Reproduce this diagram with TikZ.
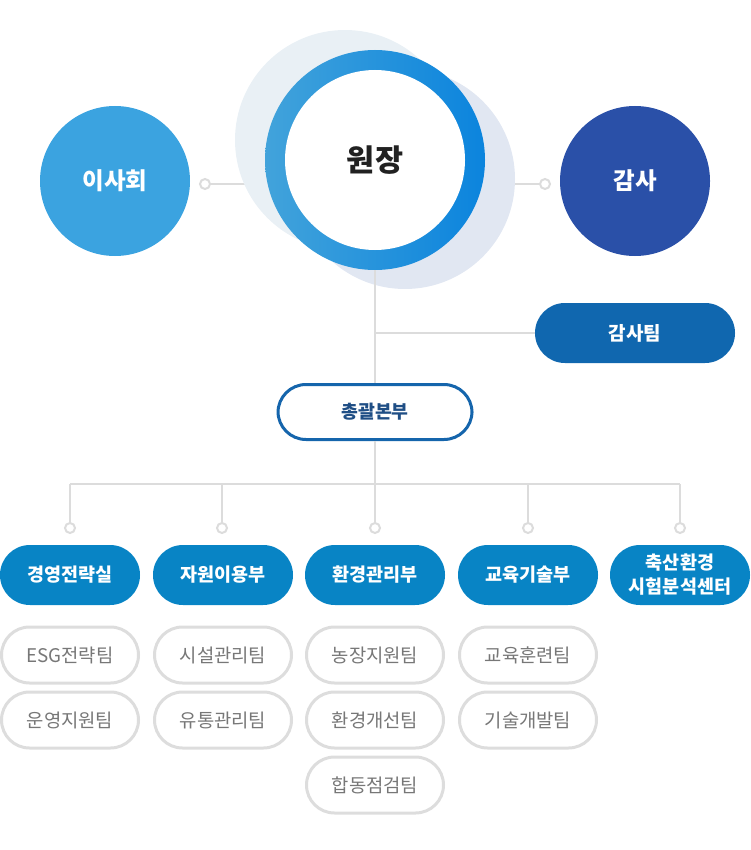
\documentclass[tikz,border=0pt]{standalone}
\usepackage{fontspec}
\setmainfont{Noto Sans CJK KR}
\pgfdeclarelayer{bg}
\pgfsetlayers{bg,main}
\definecolor{lineg}{HTML}{DCDCDC}
\definecolor{boardc}{HTML}{3BA3E0}
\definecolor{auditc}{HTML}{2A50A8}
\definecolor{lightA}{HTML}{E9F0F5}
\definecolor{lightB}{HTML}{E1E7F2}
\definecolor{ringL}{HTML}{42A3DB}
\definecolor{ringR}{HTML}{0B84DD}
\definecolor{deptc}{HTML}{0884C5}
\definecolor{ateamc}{HTML}{1067AF}
\definecolor{hqc}{HTML}{1565AC}
\definecolor{hqtext}{HTML}{1F4E85}
\definecolor{teamtext}{HTML}{777777}
\definecolor{teamline}{HTML}{DDDDDD}
\begin{document}
\begin{tikzpicture}[x=1pt,y=-1pt,
  conn/.style={draw=lineg, line width=2pt},
  enddot/.style={circle, draw=lineg, line width=2pt, fill=white, inner sep=0pt, minimum size=10pt},
  bigcirc/.style={circle, inner sep=0pt, minimum size=150pt, text=white, font=\fontsize{23.5}{28}\selectfont\bfseries},
  deptbox/.style={rectangle, rounded corners=29.9pt, fill=deptc, minimum width=140pt, minimum height=60pt, inner sep=0pt, text=white, align=center, font=\fontsize{18.5}{24}\selectfont\bfseries},
  teambox/.style={rectangle, rounded corners=28pt, fill=white, draw=teamline, line width=3pt, minimum width=137pt, minimum height=56pt, inner sep=0pt, text=teamtext, font=\fontsize{18.8}{22}\selectfont}
]
\useasboundingbox (0,0) rectangle (750,850);

% decorative background circles
\fill[lightA] (345,140) circle[radius=110pt];
\fill[lightB] (405,179) circle[radius=110pt];

% chief ring
\node (chiefring) [circle, inner sep=0pt, minimum size=220pt, left color=ringL, right color=ringR] at (375,160) {};
\node (chief) [circle, inner sep=0pt, minimum size=180pt, fill=white, text=black!87, font=\fontsize{30.5}{34}\selectfont\bfseries] at (375,160) {원장};

% board and auditor
\node (board) [bigcirc, fill=boardc] at (115,181) {이사회};
\node (auditor) [bigcirc, fill=auditc] at (635,181) {감사};
\node (dotL) [enddot] at (205,184) {};
\node (dotR) [enddot] at (545,184) {};

\begin{pgfonlayer}{bg}
  \draw[conn] (dotL.east) -- (chiefring.center |- dotL);
  \draw[conn] (dotR.west) -- (chiefring.center |- dotR);
\end{pgfonlayer}

% audit team and headquarters
\node (auditteam) [rectangle, rounded corners=29.9pt, fill=ateamc, minimum width=200pt, minimum height=60pt, inner sep=0pt, text=white, font=\fontsize{19}{22}\selectfont\bfseries] at (635,333) {감사팀};
\node (hq) [rectangle, rounded corners=28pt, fill=white, draw=hqc, line width=3pt, minimum width=194pt, minimum height=55pt, inner sep=0pt, text=hqtext, font=\fontsize{18.3}{22}\selectfont\bfseries] at (375,412) {총괄본부};

\coordinate (auditj) at (375,333);
\draw[conn] (chiefring.south) -- (hq.north);
\draw[conn] (auditj) -- (auditteam.west);

% bus
\coordinate (bus) at (375,484);
\coordinate (busL) at (70,484);
\coordinate (busR) at (680,484);
\draw[conn] (hq.south) -- (bus);
\draw[conn] (busL) -- (busR);

\node (d1) [enddot] at (70,528) {};
\node (d2) [enddot] at (222,528) {};
\node (d3) [enddot] at (375,528) {};
\node (d4) [enddot] at (528,528) {};
\node (d5) [enddot] at (680,528) {};
\foreach \d in {d1,d2,d3,d4,d5} {
  \draw[conn] (bus -| \d) -- (\d.north);
}

% departments
\node (dept1) [deptbox] at (70,575) {경영전략실};
\node (dept2) [deptbox] at (223,575) {자원이용부};
\node (dept3) [deptbox] at (375,575) {환경관리부};
\node (dept4) [deptbox] at (528,575) {교육기술부};
\node (dept5) [deptbox] at (680,575) {축산환경\\시험분석센터};

% teams
\node (t11) [teambox] at (70,655) {ESG전략팀};
\node (t12) [teambox] at (70,720) {운영지원팀};
\node (t21) [teambox] at (223,655) {시설관리팀};
\node (t22) [teambox] at (223,720) {유통관리팀};
\node (t31) [teambox] at (375,655) {농장지원팀};
\node (t32) [teambox] at (375,720) {환경개선팀};
\node (t33) [teambox] at (375,785) {합동점검팀};
\node (t41) [teambox] at (528,655) {교육훈련팀};
\node (t42) [teambox] at (528,720) {기술개발팀};
\end{tikzpicture}
\end{document}
